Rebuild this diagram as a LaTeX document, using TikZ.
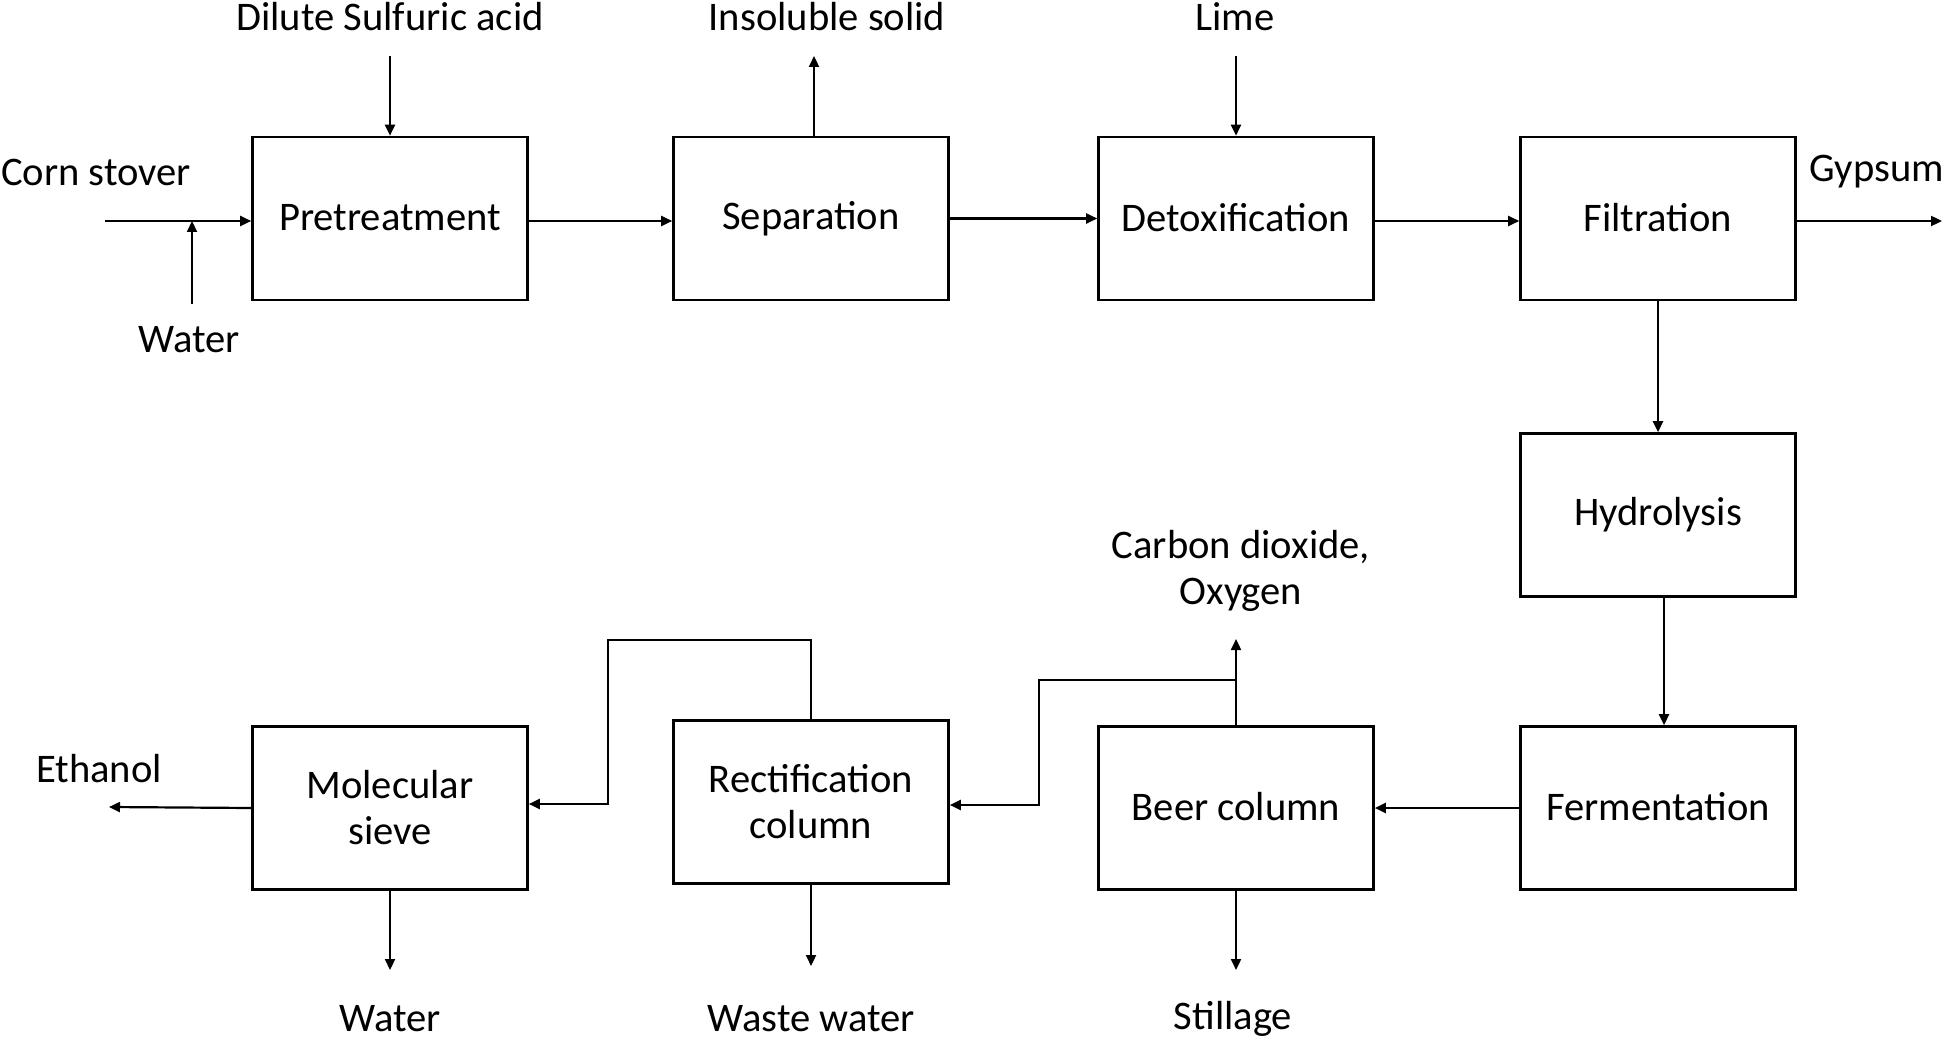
\documentclass[tikz,border=0pt]{standalone}
\usepackage{fontspec}
\setmainfont{Carlito}
\usetikzlibrary{arrows.meta,calc}
\begin{document}
\begin{tikzpicture}[x=0.5pt,y=-0.5pt,
  box/.style={draw,line width=1.3pt,minimum width=137.5pt,minimum height=81.5pt,inner sep=0pt,align=center,font=\fontsize{20.3}{23}\selectfont},
  lbl/.style={inner sep=0pt,align=center,font=\fontsize{20.3}{23}\selectfont},
  flow/.style={line width=1.1pt,-{Triangle[length=5.5pt,width=5pt]}},
  pipe/.style={line width=1.1pt}]
\path[use as bounding box] (0,0) rectangle (1946,1042);
% boxes
\node[box] (pre) at (390,218.5) {\raisebox{1.5pt}{Pretreatment}};
\node[box] (sep) at (811,218.5) {\raisebox{1.5pt}{Separation}};
\node[box] (det) at (1236,218.5) {\raisebox{1.5pt}{Detoxification}};
\node[box] (fil) at (1658,218.5) {\raisebox{1.5pt}{Filtration}};
\node[box] (hyd) at (1658,515) {\raisebox{1.5pt}{Hydrolysis}};
\node[box] (fer) at (1658,808) {\raisebox{1.5pt}{Fermentation}};
\node[box] (beer) at (1236,808) {\raisebox{1.5pt}{Beer column}};
\node[box] (rect) at (811,802) {Rectification\\column};
\node[box] (sieve) at (390,808) {Molecular\\sieve};
% labels
\node[lbl] (lcorn) at (96,172) {Corn stover};
\node[lbl] (lwater1) at (189,340) {Water};
\node[lbl] (ldil) at (390,17) {Dilute Sulfuric acid};
\node[lbl] (lins) at (827,17) {Insoluble solid};
\node[lbl] (llime) at (1235,17) {Lime};
\node[lbl] (lgyp) at (1877,172) {Gypsum};
\node[lbl] (lco2) at (1241,571) {Carbon dioxide,\\Oxygen};
\node[lbl] (lstill) at (1233,1019) {Stillage};
\node[lbl] (lwaste) at (811,1019) {Waste water};
\node[lbl] (lwater2) at (390,1019) {Water};
\node[lbl] (leth) at (99,769) {Ethanol};
% free ends
\coordinate (cs) at (105,221);
\coordinate (wa) at (192,304);
\coordinate (dil) at (390,56);
\coordinate (ins) at (814,56);
\coordinate (lime) at (1236,56);
\coordinate (gyp) at (1942,221);
\coordinate (co2) at (1236,639);
\coordinate (jb) at (1236,680);
\coordinate (still) at (1236,970);
\coordinate (ww) at (811,966);
\coordinate (wat) at (390,970);
\coordinate (eth) at (109,807);
% connectors
\draw[flow] (cs) -- (cs-|pre.west);
\draw[flow] (wa) -- (wa|-cs);
\draw[flow] (dil) -- (pre.north);
\draw[flow] (pre.east|-cs) -- (sep.west|-cs);
\draw[flow] (sep.north-|ins) -- (ins);
\draw[flow] (sep.east) -- (det.west);
\draw[flow] (lime) -- (det.north);
\draw[flow] (det.east|-cs) -- (fil.west|-cs);
\draw[flow] (fil.east|-cs) -- (gyp);
\draw[flow] (fil.south) -- (hyd.north);
\draw[flow] ([xshift=3pt]hyd.south) -- ([xshift=3pt]fer.north);
\draw[flow] (fer.west) -- (beer.east);
\draw[flow] (beer.north) -- (co2);
\draw[flow] (jb) -- (1039,680) -- (1039,805) -- (rect.east|-{0,805});
\draw[flow] (beer.south) -- (still);
\draw[flow] (rect.north) -- (811,640) -- (608,640) -- (608,804) -- (sieve.east|-{0,804});
\draw[flow] (rect.south) -- (ww);
\draw[flow] (sieve.south) -- (wat);
\draw[flow] (sieve.west) -- (eth);
\end{tikzpicture}
\end{document}
